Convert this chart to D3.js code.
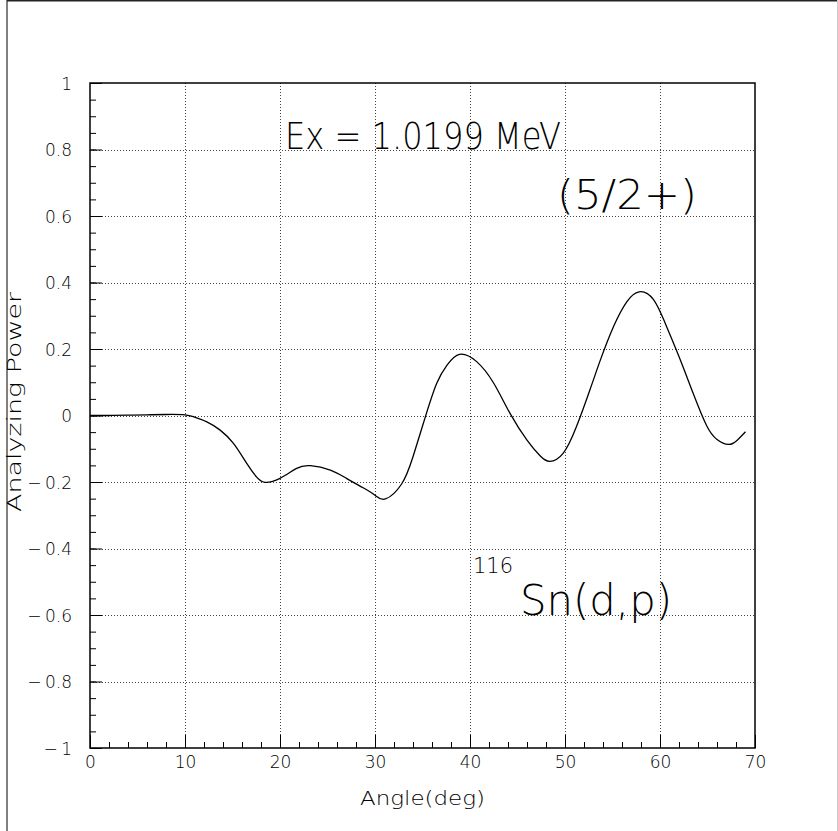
<!DOCTYPE html>
<html>
<head>
<meta charset="utf-8">
<script src="https://cdn.jsdelivr.net/npm/d3@7"></script>
<style>
  html, body { margin: 0; padding: 0; background: #fff; }
  svg text { font-family: "DejaVu Sans", Lato, sans-serif; font-weight: 200; fill: #000; }
</style>
</head>
<body>
<svg id="chart" width="838" height="831"></svg>
<script>
// Analyzing power vs. scattering angle, 116Sn(d,p), Ex = 1.0199 MeV
const angles = [0, 2, 4, 6, 8, 10, 11, 12.3, 13.7, 15.1, 16.5, 17.5, 18.4, 20.0, 21.75, 23.2, 25.3, 27.0, 28.8, 30.0,
  31.1, 32.8, 34.0, 35.3, 36.5, 37.6, 38.9, 40.7, 42.5, 44.2, 46.0, 47.4, 48.4, 49.8, 51.2, 52.6, 53.7, 55.1,
  56.5, 57.8, 59.3, 60.7, 62.1, 63.5, 64.9, 66.0, 67.2, 68.1, 69.0];
const power = [0, 0, 0.001, 0.002, 0.003, 0.002, -0.005, -0.019, -0.044, -0.084, -0.144, -0.184, -0.201, -0.189,
  -0.159, -0.151, -0.164, -0.189, -0.218, -0.240, -0.251, -0.206, -0.124, -0.004, 0.097, 0.152, 0.184, 0.162,
  0.097, 0.007, -0.074, -0.122, -0.138, -0.114, -0.034, 0.075, 0.165, 0.267, 0.342, 0.372, 0.349, 0.267, 0.170,
  0.066, -0.030, -0.072, -0.087, -0.075, -0.049];

const xMajorTicks = [0, 10, 20, 30, 40, 50, 60, 70];
const yMajorTicks = [-1, -0.8, -0.6, -0.4, -0.2, 0, 0.2, 0.4, 0.6, 0.8, 1];
const xMinorStep = 2;
const yMinorStep = 0.05;

const svg = d3.select("#chart");
const W = 838, H = 831;
const pLeft = 90, pRight = 755, pTop = 83, pBottom = 748;

const x = d3.scaleLinear().domain([0, 70]).range([pLeft, pRight]);
const y = d3.scaleLinear().domain([-1, 1]).range([pBottom, pTop]);

// page frame
svg.append("line").attr("x1", 7).attr("x2", 7).attr("y1", 0).attr("y2", H)
  .attr("stroke", "#808080").attr("stroke-width", 2);
svg.append("line").attr("x1", 7).attr("x2", W).attr("y1", 0.5).attr("y2", 0.5)
  .attr("stroke", "#222").attr("stroke-width", 2);
svg.append("line").attr("x1", 837.5).attr("x2", 837.5).attr("y1", 0).attr("y2", H)
  .attr("stroke", "#ccc").attr("stroke-width", 1);

// dotted grid at major ticks
const grid = svg.append("g").attr("stroke", "#444").attr("stroke-width", 1).attr("stroke-dasharray", "1,2");
grid.selectAll(".gx").data(xMajorTicks.slice(1, -1)).join("line")
  .attr("x1", d => Math.round(x(d)) + 0.5).attr("x2", d => Math.round(x(d)) + 0.5)
  .attr("y1", pTop).attr("y2", pBottom);
grid.selectAll(".gy").data(yMajorTicks.slice(1, -1)).join("line")
  .attr("x1", pLeft).attr("x2", pRight)
  .attr("y1", d => Math.round(y(d)) + 0.5).attr("y2", d => Math.round(y(d)) + 0.5);

// axes with inward ticks
const xMinor = d3.range(0, 70.001, xMinorStep);
const yMinor = d3.range(-1, 1.0001, yMinorStep);

svg.append("g").attr("transform", `translate(0,${pBottom})`)
  .call(d3.axisBottom(x).tickValues(xMinor).tickSize(-6).tickFormat(""))
  .call(g => g.select(".domain").remove())
  .call(g => g.selectAll("line").attr("stroke", "#000"));
svg.append("g").attr("transform", `translate(0,${pBottom})`)
  .call(d3.axisBottom(x).tickValues(xMajorTicks).tickSize(-13).tickPadding(8)
    .tickFormat(d => d))
  .call(g => g.select(".domain").remove())
  .call(g => g.selectAll("line").attr("stroke", "#000"))
  .call(g => g.selectAll("text").attr("font-size", 17).attr("dy", "0.71em"));

svg.append("g").attr("transform", `translate(${pLeft},0)`)
  .call(d3.axisLeft(y).tickValues(yMinor).tickSize(-6).tickFormat(""))
  .call(g => g.select(".domain").remove())
  .call(g => g.selectAll("line").attr("stroke", "#000"));
svg.append("g").attr("transform", `translate(${pLeft},0)`)
  .call(d3.axisLeft(y).tickValues(yMajorTicks).tickSize(-12).tickPadding(18)
    .tickFormat(d => d < 0 ? "\u2212" + "\u2009" + d3.format("")(Math.abs(d)) : d3.format("")(d)))
  .call(g => g.select(".domain").remove())
  .call(g => g.selectAll("line").attr("stroke", "#000"))
  .call(g => g.selectAll("text").attr("font-size", 17).attr("dy", "0.36em"));

// plot frame
svg.append("rect").attr("x", pLeft).attr("y", pTop).attr("width", pRight - pLeft).attr("height", pBottom - pTop)
  .attr("fill", "none").attr("stroke", "#000").attr("stroke-width", 1.5);

// curve
const pts = angles.map((a, i) => [a, power[i]]);
svg.append("path").datum(pts)
  .attr("fill", "none").attr("stroke", "#000").attr("stroke-width", 1.3)
  .attr("d", d3.line().x(d => x(d[0])).y(d => y(d[1])).curve(d3.curveNatural));

// axis titles
svg.append("text").attr("x", 422.5).attr("y", 805).attr("text-anchor", "middle")
  .attr("font-size", 19).attr("textLength", 125).attr("lengthAdjust", "spacingAndGlyphs").text("Angle(deg)");
svg.append("text").attr("transform", "translate(21,402) rotate(-90)").attr("text-anchor", "middle")
  .attr("font-size", 19).attr("textLength", 220).attr("lengthAdjust", "spacingAndGlyphs").text("Analyzing Power");

// annotations
svg.append("text").attr("x", 285).attr("y", 149).attr("font-size", 38)
  .attr("textLength", 276).attr("lengthAdjust", "spacingAndGlyphs").text("Ex = 1.0199 MeV");
svg.append("text").attr("x", 557).attr("y", 209).attr("font-size", 40)
  .attr("textLength", 140).attr("lengthAdjust", "spacingAndGlyphs").text("(5/2+)");
svg.append("text").attr("x", 473).attr("y", 573).attr("font-size", 21).text("116");
svg.append("text").attr("x", 520).attr("y", 615).attr("font-size", 42)
  .attr("textLength", 152).attr("lengthAdjust", "spacingAndGlyphs").text("Sn(d,p)");
</script>
</body>
</html>
